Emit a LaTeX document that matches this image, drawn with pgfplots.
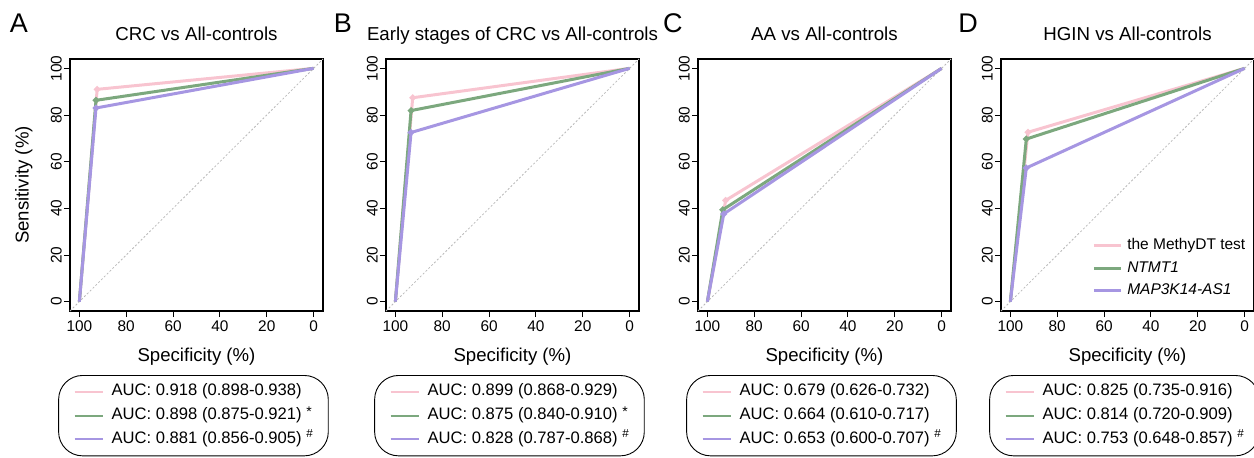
\documentclass[border=0pt]{standalone}
\usepackage{pgfplots}
\pgfplotsset{compat=1.18}
\usepackage{fontspec}
\setmainfont{Liberation Sans}
\setsansfont{Liberation Sans}

\definecolor{cpink}{RGB}{248,196,208}
\definecolor{cgreen}{RGB}{124,168,126}
\definecolor{cpurple}{RGB}{166,150,226}
\definecolor{cdiag}{RGB}{185,185,185}

\newcommand{\sigstar}{\raisebox{3pt}{\fontsize{14}{16}\selectfont *}}

\pgfplotsset{
    rocax/.style={
        anchor=south west,
        width=253pt, height=252pt, scale only axis,
        xmin=-4, xmax=104, ymin=-4, ymax=104,
        x dir=reverse, clip=false,
        xtick={0,20,40,60,80,100}, ytick={0,20,40,60,80,100},
        tick align=outside, xtick pos=bottom, ytick pos=left,
        major tick length=6pt,
        tick style={black, line width=0.9pt},
        axis line style={line width=1.3pt},
        /pgf/number format/assume math mode=true,
        ticklabel style={font=\fontsize{15.4}{18}\selectfont},
        xticklabel style={anchor=north, inner sep=0pt, yshift=-4pt},
        yticklabel style={rotate=90, anchor=south, inner sep=2pt},
        xlabel={Specificity (\%)},
        xlabel style={at={(axis description cs:0.5,-0.147)}, anchor=north, inner sep=0pt, font=\fontsize{18.6}{22}\selectfont},
        title style={at={(axis description cs:0.5,1.048)}, anchor=base, inner sep=0pt, font=\fontsize{18.7}{22}\selectfont},
        legend style={
            at={(axis description cs:0.488,-0.254)}, anchor=north,
            draw=black, line width=0.9pt, rounded corners=24pt,
            inner xsep=15pt, inner ysep=8.5pt,
            font=\fontsize{16.6}{19}\selectfont,
            row sep=8pt,
            nodes={inner sep=0pt, text height=12pt, text depth=3.8pt},
            /tikz/every odd column/.append style={column sep=8pt},
        },
        legend cell align=left,
        legend image code/.code={\draw[#1, line width=2pt] (0pt,0pt) -- (28pt,0pt);},
    },
    roc/.style={line width=3pt, mark=*, mark size=1.5pt, mark indices={2}, mark options={solid}},
    diag/.style={cdiag, line width=0.8pt, dash pattern=on 2pt off 2pt, forget plot},
}

\begin{document}
\begin{tikzpicture}
\useasboundingbox (0,0) rectangle (1254pt,458pt);

% A
\begin{axis}[rocax, at={(70pt,147pt)}, title={CRC vs All-controls},
    ylabel={Sensitivity (\%)},
    ylabel style={at={(axis description cs:-0.147,0.5)}, anchor=south, inner sep=0pt, font=\fontsize{18.6}{22}\selectfont}]
\addplot[diag] coordinates {(104,-4) (-4,104)};
\addplot[cpink, roc] coordinates {(100,0) (92.4,91.0) (0,100)};
\addlegendentry{AUC: 0.918 (0.898-0.938)}
\addplot[cgreen, roc] coordinates {(100,0) (92.9,86.3) (0,100)};
\addlegendentry{AUC: 0.898 (0.875-0.921) \sigstar}
\addplot[cpurple, roc] coordinates {(100,0) (92.9,83.0) (0,100)};
\addlegendentry{AUC: 0.881 (0.856-0.905)~\textsuperscript{\#}}
\node[font=\fontsize{27}{30}\selectfont, anchor=base] at (axis description cs:-0.202,1.107) {A};
\end{axis}

% B
\begin{axis}[rocax, at={(386pt,147pt)}, title={Early stages of CRC vs All-controls}]
\addplot[diag] coordinates {(104,-4) (-4,104)};
\addplot[cpink, roc] coordinates {(100,0) (92.6,87.4) (0,100)};
\addlegendentry{AUC: 0.899 (0.868-0.929)}
\addplot[cgreen, roc] coordinates {(100,0) (93.3,81.9) (0,100)};
\addlegendentry{AUC: 0.875 (0.840-0.910) \sigstar}
\addplot[cpurple, roc] coordinates {(100,0) (93.3,72.5) (0,100)};
\addlegendentry{AUC: 0.828 (0.787-0.868)~\textsuperscript{\#}}
\node[font=\fontsize{27}{30}\selectfont, anchor=base] at (axis description cs:-0.170,1.107) {B};
\end{axis}

% C
\begin{axis}[rocax, at={(698pt,147pt)}, title={AA vs All-controls}]
\addplot[diag] coordinates {(104,-4) (-4,104)};
\addplot[cpink, roc] coordinates {(100,0) (92.2,43.4) (0,100)};
\addlegendentry{AUC: 0.679 (0.626-0.732)}
\addplot[cgreen, roc] coordinates {(100,0) (93.4,39.4) (0,100)};
\addlegendentry{AUC: 0.664 (0.610-0.717)}
\addplot[cpurple, roc] coordinates {(100,0) (93.0,37.6) (0,100)};
\addlegendentry{AUC: 0.653 (0.600-0.707)~\textsuperscript{\#}}
\node[font=\fontsize{27}{30}\selectfont, anchor=base] at (axis description cs:-0.099,1.107) {C};
\end{axis}

% D
\begin{axis}[rocax, at={(1001pt,147pt)}, title={HGIN vs All-controls}]
\addplot[diag] coordinates {(104,-4) (-4,104)};
\addplot[cpink, roc] coordinates {(100,0) (92.5,72.6) (0,100)};
\addlegendentry{AUC: 0.825 (0.735-0.916)}
\addplot[cgreen, roc] coordinates {(100,0) (93.2,69.7) (0,100)};
\addlegendentry{AUC: 0.814 (0.720-0.909)}
\addplot[cpurple, roc] coordinates {(100,0) (93.2,57.3) (0,100)};
\addlegendentry{AUC: 0.753 (0.648-0.857)~\textsuperscript{\#}}
\node[font=\fontsize{27}{30}\selectfont, anchor=base] at (axis description cs:-0.130,1.107) {D};
\end{axis}

% names legend inside D
\begin{axis}[anchor=south west, at={(1001pt,147pt)}, width=253pt, height=252pt, scale only axis,
    hide axis, xmin=0, xmax=1, ymin=0, ymax=1,
    legend style={at={(axis description cs:0.36,0.288)}, anchor=north west,
        draw=none, fill=none, inner sep=0pt,
        font=\fontsize{15.5}{18}\selectfont, row sep=8pt,
        nodes={inner sep=0pt, text height=11pt, text depth=3.5pt},
        /tikz/every odd column/.append style={column sep=5pt}},
    legend cell align=left,
    legend image code/.code={\draw[#1, line width=3pt] (0pt,0pt) -- (27pt,0pt);}]
\addlegendimage{cpink}
\addlegendentry{the MethyDT test}
\addlegendimage{cgreen}
\addlegendentry{\textit{NTMT1}}
\addlegendimage{cpurple}
\addlegendentry{\textit{MAP3K14-AS1}}
\end{axis}
\end{tikzpicture}
\end{document}
